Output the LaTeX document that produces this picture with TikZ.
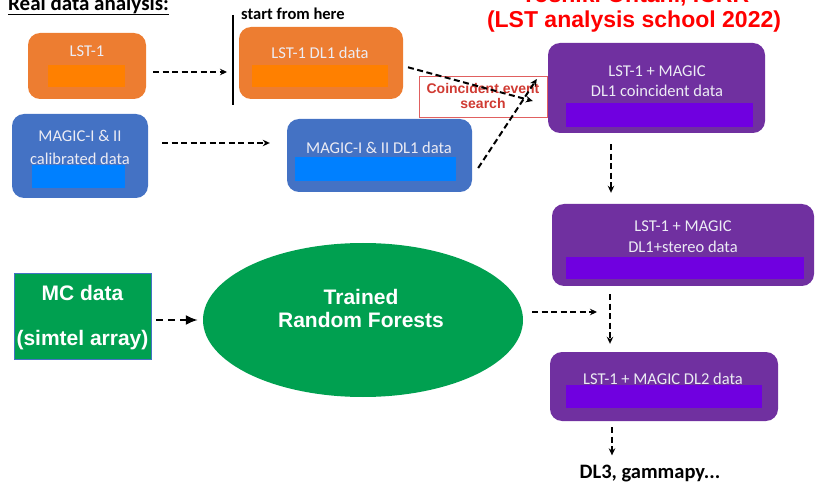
\documentclass[tikz,border=0pt]{standalone}
\usepackage{fontspec}
\setmainfont{Carlito}
\newfontfamily\arialf{Liberation Sans}
\usetikzlibrary{arrows.meta,shapes.geometric}
\definecolor{orF}{HTML}{ED7D31}
\definecolor{orI}{HTML}{FF8000}
\definecolor{blF}{HTML}{4472C4}
\definecolor{blI}{HTML}{0080FF}
\definecolor{puF}{HTML}{7030A0}
\definecolor{puI}{HTML}{7000E0}
\definecolor{grn}{HTML}{00A050}
\definecolor{boxtext}{HTML}{ECECF4}
\definecolor{coinred}{HTML}{D03A32}
\definecolor{coinbd}{HTML}{E06060}
\definecolor{titlered}{HTML}{FF0000}
\begin{document}
\begin{tikzpicture}[x=1pt,y=-1pt,
  box/.style={draw=none, rounded corners=12pt, inner sep=0pt},
  bar/.style={draw=none, inner sep=0pt},
  btxt/.style={text=boxtext, font=\fontsize{16.5}{21}\selectfont, align=center, inner sep=0pt},
  wtxt/.style={text=white, font=\arialf\bfseries\fontsize{21}{23}\selectfont, align=center, inner sep=0pt},
  arr/.style={line width=2pt, dash pattern=on 6pt off 3.5pt, -{Stealth[length=7pt,width=6.5pt]}},
  bigarr/.style={line width=2pt, dash pattern=on 7pt off 5pt, -{Latex[length=12pt,width=10pt]}},
]
\path[use as bounding box, clip] (0,0) rectangle (815,484);

% headings
\node[anchor=base west, inner sep=0pt, font=\bfseries\fontsize{21}{23}\selectfont] (rd) at (8,11) {Real data analysis:};
\draw[line width=1.3pt] ([yshift=-3.5]rd.base west) -- ([yshift=-3.5]rd.base east);
\node[anchor=west, inner sep=0pt, font=\bfseries\fontsize{16.5}{20}\selectfont] (sfh) at (241,14) {start from here};
\node[anchor=base, inner sep=0pt, text=titlered, font=\arialf\bfseries\fontsize{23}{26}\selectfont] (t1) at (635,3) {Yoshiki Ohtani, ICRR};
\node[anchor=base, inner sep=0pt, text=titlered, font=\arialf\bfseries\fontsize{23}{26}\selectfont] (t2) at (634,28) {(LST analysis school 2022)};

% vertical bar
\coordinate (vt) at (233,15);
\coordinate (vb) at (233,105);
\draw[line width=1.5pt] (vt) -- (vb);

% LST-1
\node[box, fill=orF, minimum width=118pt, minimum height=66pt] (lst1) at (87,66) {};
\node[bar, fill=orI, minimum width=77pt, minimum height=22pt] (lst1i) at (86.5,76) {};
\node[btxt] (lst1t) at (87,51) {LST-1};

% LST-1 DL1
\node[box, fill=orF, minimum width=164pt, minimum height=72pt] (lstdl1) at (321,63) {};
\node[bar, fill=orI, minimum width=136pt, minimum height=22pt] (lstdl1i) at (320,76) {};
\node[btxt] (lstdl1t) at (320,53) {LST-1 DL1 data};

% MAGIC calibrated
\node[box, fill=blF, minimum width=136pt, minimum height=84pt] (magcal) at (80,156) {};
\node[bar, fill=blI, minimum width=93pt, minimum height=23pt] (magcali) at (78.5,176.5) {};
\node[btxt, font=\fontsize{16.5}{23}\selectfont] (magcalt) at (80,147.5) {MAGIC-I \& II\\calibrated data};

% MAGIC DL1
\node[box, fill=blF, minimum width=185pt, minimum height=73pt] (magdl1) at (379.5,155.5) {};
\node[bar, fill=blI, minimum width=161pt, minimum height=24pt] (magdl1i) at (375.5,169) {};
\node[btxt] (magdl1t) at (379,148) {MAGIC-I \& II DL1 data};

% Purple 1
\node[box, fill=puF, minimum width=217pt, minimum height=90pt] (p1) at (656.5,88) {};
\node[bar, fill=puI, minimum width=187pt, minimum height=24pt] (p1i) at (659.5,115) {};
\node[btxt, font=\fontsize{16.5}{20}\selectfont] (p1t) at (657,81) {LST-1 + MAGIC\\DL1 coincident data};

% Purple 2
\node[box, fill=puF, minimum width=262pt, minimum height=82pt] (p2) at (683,245) {};
\node[bar, fill=puI, minimum width=238pt, minimum height=22pt] (p2i) at (685,268) {};
\node[btxt] (p2t) at (683,237) {LST-1 + MAGIC\\DL1+stereo data};

% Purple 3
\node[box, fill=puF, minimum width=228pt, minimum height=69pt] (p3) at (664,386.5) {};
\node[bar, fill=puI, minimum width=196pt, minimum height=23pt] (p3i) at (664,396.5) {};
\node[btxt] (p3t) at (663,379) {LST-1 + MAGIC DL2 data};

% Coincident event search
\node[draw=coinbd, line width=0.8pt, fill=white, minimum width=128pt, minimum height=41pt, inner sep=0pt] (coin) at (483,96.5) {};
\node[inner sep=0pt, text=coinred, align=center, font=\arialf\bfseries\fontsize{14}{15}\selectfont] (coint) at (483,96) {Coincident event\\search};

% MC data
\node[draw=blF, line width=0.8pt, fill=grn, minimum width=137pt, minimum height=86pt, inner sep=0pt] (mc) at (82.5,316) {};
\node[wtxt, font=\arialf\bfseries\fontsize{21}{45}\selectfont] (mct) at (82.5,318) {MC data\\(simtel array)};

% Random forests
\node[ellipse, fill=grn, minimum width=320pt, minimum height=154pt, inner sep=0pt] (rf) at (363,320) {};
\node[wtxt] (rft) at (361,308) {Trained\\Random Forests};

% DL3
\node[inner sep=0pt, font=\bfseries\fontsize{20.5}{22}\selectfont] (dl3) at (650,474) {DL3, gammapy...};

% connectors
\draw[arr, shorten <=7pt, shorten >=6pt] ([yshift=-6]lst1.east) -- ([yshift=-6]lst1.east -| vt);
\draw[arr, shorten <=5pt] ([yshift=-3]lstdl1.east) -- ([shift={(-15,13)}]p1.west);
\draw[arr, shorten <=14pt, shorten >=17pt] ([yshift=13]magcal.east) -- ([yshift=13]magcal.east -| magdl1.west);
\draw[arr] ([shift={(6,12.5)}]magdl1.east) -- ([shift={(-11,-9)}]p1.west);
\draw[arr, shorten <=11pt, shorten >=11pt] ([xshift=-45.5]p1.south) -- ([xshift=-45.5]p1.south |- p2.north);
\coordinate (rfend) at (597,312);
\draw[arr, shorten <=9pt] ([yshift=8]rf.east) -- (rfend);
\draw[arr, shorten <=8pt, shorten >=8pt] ([xshift=-73]p2.south) -- ([xshift=-73]p2.south |- p3.north);
\draw[arr, shorten <=6pt, shorten >=10pt] ([xshift=-52]p3.south) -- ([xshift=-52]p3.south |- dl3.north);
\draw[bigarr, shorten <=5pt, shorten >=5pt] (mc.east |- rf.west) -- (rf.west);
\end{tikzpicture}
\end{document}
